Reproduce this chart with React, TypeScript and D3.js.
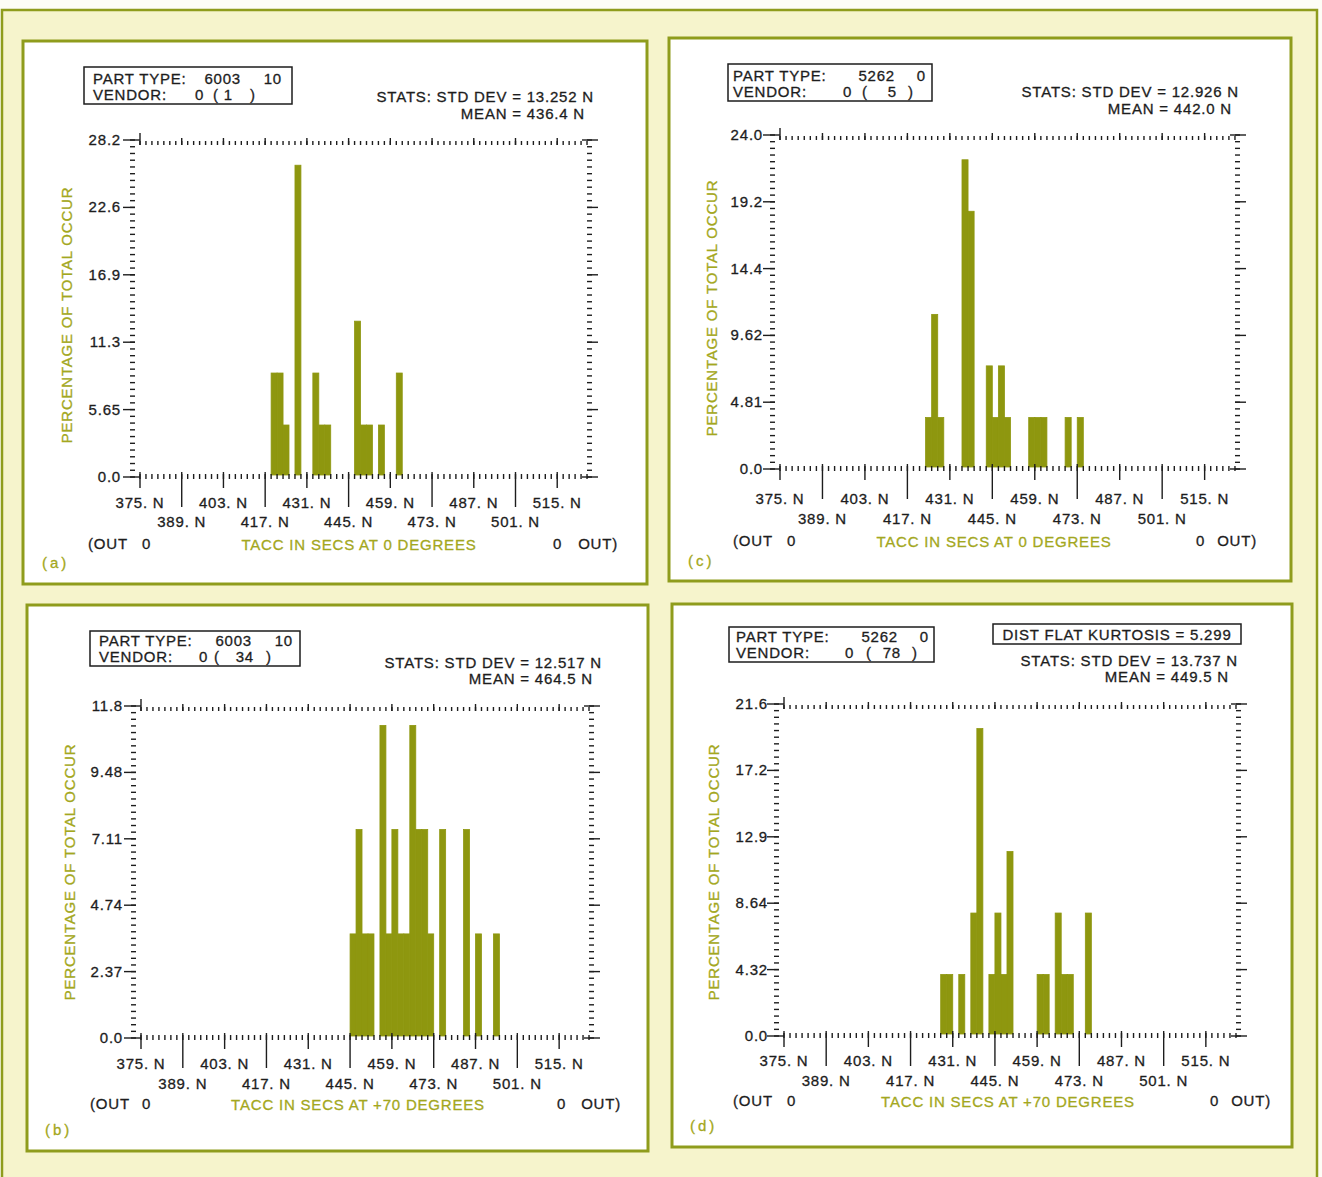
import React from "react";
import * as d3 from "d3";

// ---------- shared axis data ----------
const X_DOMAIN = [375, 526];
const BIN_WIDTH = 2;
const X_MAJOR_VALUES = [375, 389, 403, 417, 431, 445, 459, 473, 487, 501, 515];
const X_MAJOR_LABELS = ["375. N", "389. N", "403. N", "417. N", "431. N", "445. N", "459. N", "473. N", "487. N", "501. N", "515. N"];
const PANEL_TAGS = ["(a)", "(c)", "(b)", "(d)"];

// ---------- panel a : 6003 / vendor 1 / 0 deg ----------
const binsA = [419, 421, 423, 427, 433, 435, 437, 447, 449, 451, 455, 461];
const pctA = [8.7, 8.7, 4.35, 26.09, 8.7, 4.35, 4.35, 13.04, 4.35, 4.35, 4.35, 8.7];
const yLabelsA = ["0.0", "5.65", "11.3", "16.9", "22.6", "28.2"];
const yMaxA = 28.2;

// ---------- panel c : 5262 / vendor 5 / 0 deg ----------
const binsC = [423, 425, 427, 435, 437, 443, 445, 447, 449, 457, 459, 461, 469, 473];
const pctC = [3.7, 11.11, 3.7, 22.22, 18.52, 7.41, 3.7, 7.41, 3.7, 3.7, 3.7, 3.7, 3.7, 3.7];
const yLabelsC = ["0.0", "4.81", "9.62", "14.4", "19.2", "24.0"];
const yMaxC = 24.0;

// ---------- panel b : 6003 / vendor 34 / +70 deg ----------
const binsB = [445, 447, 449, 451, 455, 457, 459, 461, 463, 465, 467, 469, 471, 475, 483, 487, 493];
const pctB = [3.7, 7.41, 3.7, 3.7, 11.11, 3.7, 7.41, 3.7, 3.7, 11.11, 7.41, 7.41, 3.7, 7.41, 7.41, 3.7, 3.7];
const yLabelsB = ["0.0", "2.37", "4.74", "7.11", "9.48", "11.8"];
const yMaxB = 11.8;

// ---------- panel d : 5262 / vendor 78 / +70 deg ----------
const binsD = [427, 429, 433, 437, 439, 443, 445, 447, 449, 459, 461, 465, 467, 469, 475];
const pctD = [4, 4, 4, 8, 20, 4, 8, 4, 12, 4, 4, 8, 4, 4, 8];
const yLabelsD = ["0.0", "4.32", "8.64", "12.9", "17.2", "21.6"];
const yMaxD = 21.6;

// ---------- header text data ----------
const PART_TYPES = ["6003", "5262", "6003", "5262"];
const PART_SUBS = ["10", "0", "10", "0"];
const VENDOR_IDS = ["1", "5", "34", "78"];
const STD_DEVS = ["13.252", "12.926", "12.517", "13.737"];
const MEANS = ["436.4", "442.0", "464.5", "449.5"];
const MEAN_SEP = [" = ", "  =  ", " = ", " = "];
const TEMPS = ["0", "0", "+70", "+70"];
const KURTOSIS = [null, null, null, "5.299"];

// ---------- layout (positions only) ----------
const LAYOUT = [
  { rect: [23, 41, 624, 543], L: 140, R: 590, T: 140, B: 477,
    box: [84, 67, 208, 37], partX: 93, l1: 84, l2: 100, num1R: 241, num2R: 282,
    v0: 195, vOpen: 213, vNumR: 233, vClose: 250,
    s1R: 594, s1Y: 102, s2R: 585, s2Y: 119, kurt: null,
    yLabR: 121, yTitX: 67, yTitY: 315,
    row1: 508, row2: 527, outY: 549, outL: 88, out0L: 142, titX: 359, out0R: 553, outR: 618,
    tagX: 42, tagY: 568 },
  { rect: [669, 38, 622, 543], L: 780, R: 1238, T: 135, B: 469,
    box: [728, 64, 204, 37], partX: 733, l1: 81, l2: 97, num1R: 895, num2R: 926,
    v0: 843, vOpen: 862, vNumR: 897, vClose: 908,
    s1R: 1239, s1Y: 97, s2R: 1232, s2Y: 114, kurt: null,
    yLabR: 763, yTitX: 712, yTitY: 308,
    row1: 504, row2: 524, outY: 546, outL: 733, out0L: 787, titX: 994, out0R: 1196, outR: 1257,
    tagX: 688, tagY: 566 },
  { rect: [27, 605, 621, 546], L: 141, R: 592, T: 706, B: 1038,
    box: [90, 631, 210, 35], partX: 99, l1: 646, l2: 662, num1R: 252, num2R: 293,
    v0: 199, vOpen: 214, vNumR: 254, vClose: 266,
    s1R: 602, s1Y: 668, s2R: 593, s2Y: 684, kurt: null,
    yLabR: 123, yTitX: 70, yTitY: 872,
    row1: 1069, row2: 1089, outY: 1109, outL: 90, out0L: 142, titX: 358, out0R: 557, outR: 621,
    tagX: 45, tagY: 1135 },
  { rect: [672, 604, 620, 543], L: 784, R: 1239, T: 704, B: 1036,
    box: [729, 627, 205, 35], partX: 736, l1: 642, l2: 658, num1R: 898, num2R: 929,
    v0: 845, vOpen: 866, vNumR: 901, vClose: 912,
    s1R: 1238, s1Y: 666, s2R: 1229, s2Y: 682, kurt: [993, 624, 248, 20],
    yLabR: 768, yTitX: 714, yTitY: 872,
    row1: 1066, row2: 1086, outY: 1106, outL: 733, out0L: 787, titX: 1008, out0R: 1210, outR: 1271,
    tagX: 690, tagY: 1131 },
];

const PANEL_DATA = [
  { bins: binsA, pct: pctA, yLabels: yLabelsA, yMax: yMaxA },
  { bins: binsC, pct: pctC, yLabels: yLabelsC, yMax: yMaxC },
  { bins: binsB, pct: pctB, yLabels: yLabelsB, yMax: yMaxB },
  { bins: binsD, pct: pctD, yLabels: yLabelsD, yMax: yMaxD },
];

// ---------- style ----------
const BG = "#f6f4cc";
const FRAME = "#8f9c1c";
const BAR = "#8e970f";
const GREEN_TEXT = "#a3a720";
const INK = "#1d1d1d";
const FONT = "'Liberation Sans', Arial, Helvetica, sans-serif";

const textStyle: React.CSSProperties = {
  fontFamily: FONT,
  fontSize: 15,
  letterSpacing: "0.8px",
  whiteSpace: "pre",
};

function Panel({ idx }: { idx: number }) {
  const lay: any = LAYOUT[idx];
  const d = PANEL_DATA[idx];
  const x = d3.scaleLinear().domain(X_DOMAIN).range([lay.L, lay.R]);
  const y = d3.scaleLinear().domain([0, d.yMax]).range([lay.B, lay.T]);

  const minorX = d3.range(X_DOMAIN[0], X_DOMAIN[1] + 0.001, BIN_WIDTH);
  const yMajor = d3.range(6).map((i) => (i * d.yMax) / 5);
  const yMinor = d3.range(51).map((i) => (i * d.yMax) / 50);

  const [rx, ry, rw, rh] = lay.rect;
  const [bx, by, bw, bh] = lay.box;

  return (
    <g>
      <rect x={rx} y={ry} width={rw} height={rh} fill="#ffffff" stroke={FRAME} strokeWidth={3} />

      {/* header box */}
      <rect x={bx} y={by} width={bw} height={bh} fill="none" stroke={INK} strokeWidth={1.5} />
      <g fill={INK} stroke={INK} strokeWidth={0.3} style={textStyle}>
        <text x={lay.partX} y={lay.l1}>PART TYPE:</text>
        <text x={lay.num1R} y={lay.l1} textAnchor="end">{PART_TYPES[idx]}</text>
        <text x={lay.num2R} y={lay.l1} textAnchor="end">{PART_SUBS[idx]}</text>
        <text x={lay.partX} y={lay.l2}>VENDOR:</text>
        <text x={lay.v0} y={lay.l2}>0</text>
        <text x={lay.vOpen} y={lay.l2}>(</text>
        <text x={lay.vNumR} y={lay.l2} textAnchor="end">{VENDOR_IDS[idx]}</text>
        <text x={lay.vClose} y={lay.l2}>)</text>
        <text x={lay.s1R} y={lay.s1Y} textAnchor="end">{`STATS: STD DEV = ${STD_DEVS[idx]} N`}</text>
        <text x={lay.s2R} y={lay.s2Y} textAnchor="end">{`MEAN${MEAN_SEP[idx]}${MEANS[idx]} N`}</text>
      </g>
      {lay.kurt && KURTOSIS[idx] && (
        <g>
          <rect x={lay.kurt[0]} y={lay.kurt[1]} width={lay.kurt[2]} height={lay.kurt[3]} fill="none" stroke={INK} strokeWidth={1.5} />
          <text x={lay.kurt[0] + lay.kurt[2] / 2} y={lay.kurt[1] + 16} textAnchor="middle" fill={INK} stroke={INK} strokeWidth={0.3} style={textStyle}>
            {`DIST FLAT KURTOSIS = ${KURTOSIS[idx]}`}
          </text>
        </g>
      )}

      {/* bars */}
      <g fill={BAR} stroke={BAR} strokeWidth={0.8}>
        {d.bins.map((b, i) => (
          <rect
            key={i}
            x={x(b)}
            y={y(d.pct[i])}
            width={x(b + BIN_WIDTH) - x(b)}
            height={y(0) - 2 - y(d.pct[i])}
          />
        ))}
      </g>

      {/* axis ticks */}
      <g stroke={INK} strokeWidth={1.4}>
        {yMinor.map((v, i) => (
          <line key={"ym" + i} x1={lay.L - 10} x2={lay.L - 5} y1={y(v)} y2={y(v)} />
        ))}
        {yMajor.map((v, i) => (
          <line key={"yM" + i} x1={lay.L - 17} x2={i === 0 || i === 5 ? lay.L : lay.L - 5} y1={y(v)} y2={y(v)} />
        ))}
        {yMinor.map((v, i) => (
          <line key={"rm" + i} x1={lay.R - 3} x2={lay.R + 2} y1={y(v)} y2={y(v)} />
        ))}
        {yMajor.map((v, i) => (
          <line key={"rM" + i} x1={i === 0 || i === 5 ? lay.R - 8 : lay.R - 3} x2={lay.R + 8} y1={y(v)} y2={y(v)} />
        ))}
        {minorX.map((v, i) => (
          <line key={"tm" + i} x1={x(v)} x2={x(v)} y1={lay.T + 1} y2={lay.T + 5} />
        ))}
        {X_MAJOR_VALUES.map((v, i) => (
          <line key={"tM" + i} x1={x(v)} x2={x(v)} y1={i === 0 ? lay.T - 7 : lay.T - 2} y2={lay.T + 5} />
        ))}
        {minorX.map((v, i) => (
          <line key={"bm" + i} x1={x(v)} x2={x(v)} y1={lay.B - 3} y2={lay.B + 2} />
        ))}
        {X_MAJOR_VALUES.map((v, i) => (
          <line key={"bM" + i} x1={x(v)} x2={x(v)} y1={lay.B - 5} y2={i % 2 === 1 ? lay.B + 30 : lay.B + 11} />
        ))}
      </g>

      {/* tick labels */}
      <g fill={INK} stroke={INK} strokeWidth={0.3} style={textStyle}>
        {yMajor.map((v, i) => (
          <text key={"yl" + i} x={lay.yLabR} y={y(v) + 5} textAnchor="end">{d.yLabels[i]}</text>
        ))}
        {X_MAJOR_VALUES.map((v, i) => (
          <text key={"xl" + i} x={x(v)} y={i % 2 === 0 ? lay.row1 : lay.row2} textAnchor="middle">{X_MAJOR_LABELS[i]}</text>
        ))}
        <text x={lay.outL} y={lay.outY}>(OUT</text>
        <text x={lay.out0L} y={lay.outY}>0</text>
        <text x={lay.out0R} y={lay.outY}>0</text>
        <text x={lay.outR} y={lay.outY} textAnchor="end">OUT)</text>
      </g>

      {/* green titles */}
      <g fill={GREEN_TEXT} stroke={GREEN_TEXT} strokeWidth={0.3} style={textStyle}>
        <text x={lay.titX} y={lay.outY + 1} textAnchor="middle">{`TACC IN SECS AT ${TEMPS[idx]} DEGREES`}</text>
        <text transform={`translate(${lay.yTitX + 5},${lay.yTitY}) rotate(-90)`} textAnchor="middle">PERCENTAGE OF TOTAL OCCUR</text>
        <text x={lay.tagX} y={lay.tagY} style={{ ...textStyle, letterSpacing: "3px" }}>{PANEL_TAGS[idx]}</text>
      </g>
    </g>
  );
}

export default function App() {
  return (
    <svg
      width={1322}
      height={1177}
      style={{ position: "absolute", left: 0, top: 0, display: "block" }}
      xmlns="http://www.w3.org/2000/svg"
    >
      <rect x={0} y={0} width={1322} height={1177} fill="#fdfdf6" />
      <rect x={2} y={10} width={1315} height={1185} fill={BG} stroke={FRAME} strokeWidth={2.5} />
      {[0, 1, 2, 3].map((i) => (
        <Panel key={i} idx={i} />
      ))}
    </svg>
  );
}
